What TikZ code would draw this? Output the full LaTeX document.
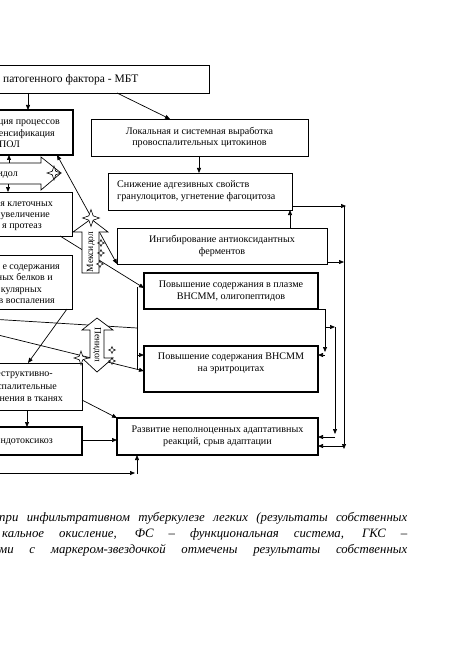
\documentclass[tikz,border=0pt]{standalone}
\usepackage{fontspec}
\setmainfont{Liberation Serif}
\usetikzlibrary{arrows.meta,shapes.geometric}
\begin{document}
\begin{tikzpicture}[x=1pt,y=-1pt,
  box/.style={draw, line width=0.8pt, inner sep=0pt, outer sep=0pt},
  tbox/.style={draw, line width=2.2pt, inner sep=0pt, outer sep=0pt},
  arr/.style={-{Triangle[length=5pt,width=4pt]}, line width=0.7pt},
  darr/.style={{Triangle[length=5pt,width=4pt]}-{Triangle[length=5pt,width=4pt]}, line width=0.7pt},
  ln/.style={line width=0.7pt},
  txt/.style={inner sep=0pt, align=center, font=\fontsize{10.1}{11.8}\selectfont},
  ltxt/.style={inner sep=0pt, anchor=base east, font=\fontsize{10}{12}\selectfont},
  blk/.style={draw, fill=white, line width=0.7pt},
  bigstar/.style={star, star points=4, star point ratio=2.8, draw, fill=white, inner sep=0pt, minimum size=14pt, line width=0.6pt},
  smallstar/.style={star, star points=4, star point ratio=2.4, draw, fill=white, inner sep=0pt, minimum size=7pt, line width=0.5pt},
  captxt/.style={inner sep=0pt, anchor=base west, font=\fontsize{12.8}{15}\selectfont\itshape}
]
\useasboundingbox (0,0) rectangle (475,671);

% ---------- boxes ----------
\node[box, minimum width=309pt, minimum height=28pt] (b1) at (54.5,79) {};
\node[tbox, minimum width=173pt, minimum height=45pt] (b2) at (-13.5,132.5) {};
\node[box, minimum width=217pt, minimum height=37pt] (lok) at (199.5,137.5) {};
\node[box, minimum width=184pt, minimum height=37pt] (sni) at (200,191.5) {};
\node[box, minimum width=210pt, minimum height=36pt] (ing) at (222,246) {};
\node[box, minimum width=172pt, minimum height=44pt] (b3) at (-14,214) {};
\node[box, minimum width=172pt, minimum height=54pt] (b4) at (-14,282) {};
\node[tbox, minimum width=174pt, minimum height=36pt] (pla) at (231,291) {};
\node[tbox, minimum width=174pt, minimum height=46pt] (ery) at (231,369) {};
\node[box, minimum width=182pt, minimum height=47pt] (des) at (-9,386.5) {};
\node[tbox, minimum width=182pt, minimum height=28pt] (endo) at (-9,441) {};
\node[tbox, minimum width=201pt, minimum height=37pt] (raz) at (217.5,436.5) {};

% ---------- texts ----------
\node[inner sep=0pt, anchor=base west, font=\fontsize{11.5}{13}\selectfont] (t1) at (3,83) {патогенного фактора - МБТ};
\node[ltxt] (t2a) at (60,125) {ция процессов};
\node[ltxt] (t2b) at (55,136.5) {тенсификация};
\node[ltxt] (t2c) at (20,148) {ПОЛ};
\node[txt] (tlok) at (199.5,137.5) {Локальная и системная выработка\\провоспалительных цитокинов};
\node[txt, align=left, anchor=west] (tsni) at (117,191) {Снижение адгезивных свойств\\гранулоцитов, угнетение фагоцитоза};
\node[txt] (ting) at (222,246) {Ингибирование антиоксидантных\\ферментов};
\node[ltxt] (t3a) at (53,206) {ия клеточных};
\node[ltxt] (t3b) at (50,217) {увеличение};
\node[ltxt] (t3c) at (42,228) {я протеаз};
\node[ltxt] (t4a) at (60,269.5) {е содержания};
\node[ltxt] (t4b) at (53,280.5) {ных белков и};
\node[ltxt] (t4c) at (42,292) {кулярных};
\node[ltxt] (t4d) at (55,303.5) {в воспаления};
\node[txt] (tpla) at (231,291) {Повышение содержания в плазме\\ВНСММ, олигопептидов};
\node[txt] (tery) at (231,363) {Повышение содержания ВНСММ\\на эритроцитах};
\node[ltxt] (tda) at (53,376) {еструктивно-};
\node[ltxt] (tdb) at (57,389) {спалительные};
\node[ltxt] (tdc) at (63,401) {нения в тканях};
\node[ltxt] (tend) at (53,443) {ндотоксикоз};
\node[txt] (traz) at (217.5,436) {Развитие неполноценных адаптативных\\реакций, срыв адаптации};

% ---------- connectors (behind block arrows) ----------
\draw[arr] (b1.south -| 28,0) -- (b2.north -| 28,0);
\draw[arr] (b1.south -| 117,0) -- (lok.north -| 170,0);
\draw[arr] (lok.south -| 199,0) -- (sni.north -| 199,0);
\draw[arr] (ing.north -| 290,0) -- (sni.south -| 290,0);

\coordinate (rtop) at (344,206);
\coordinate (rbot) at (344,449);
\coordinate (rmid) at (344,262);
\draw[arr] (sni.east |- rtop) -- ([xshift=2pt]rtop);
\draw[arr] (ing.east |- rmid) -- (rmid);
\draw[arr] (rtop) -- (rbot);
\draw[arr] (344,446) -- (raz.east |- 0,446);

\coordinate (qa) at (325,309);
\coordinate (qb) at (325,352);
\draw[arr] (pla.south east) -- (qa) -- (qb);
\draw[arr] (325,355) -- (ery.east |- 0,355);
\coordinate (sa) at (335,327);
\coordinate (sb) at (335,434);
\draw[arr] (qa |- sa) -- (sa);
\draw[arr] (sa) -- (sb);
\draw[arr] (sb |- 0,437) -- (raz.east |- 0,437);

\draw[darr] (b2.south -| 57,0) -- (ing.south west);
\draw[arr] (b3.south -| 60,0) -- (pla.west |- 0,288);
\coordinate (la) at (-10,319);
\coordinate (lb) at (137,328);
\draw[ln] (la) -- (lb);
\draw[ln] (137,287) -- (137,370);
\draw[arr] (137,355) -- (ery.west |- 0,355);
\coordinate (lc) at (-10,333);
\draw[arr] (lc) -- (ery.west |- 0,371);
\draw[arr] (b4.south -| 67,0) -- (des.north -| 28,0);
\draw[arr] (des.south -| 27,0) -- (endo.north -| 27,0);
\draw[arr] (des.east |- 0,400) -- (raz.north west);
\draw[arr] (endo.east |- 0,440) -- (raz.west |- 0,440);
\coordinate (ba) at (-10,473);
\coordinate (bb) at (135,473);
\draw[arr] (ba) -- (bb);
\draw[arr] (137,474) -- (raz.south -| 137,0);

% ---------- block arrows (drugs) ----------
\draw[blk] (-100,163) -- (41,163) -- (41,157) -- (61,173) -- (41,190) -- (41,184) -- (-100,184) -- cycle;
\node[ltxt] (tm1) at (18,176) {сидол};
\draw[arr] (9,163) -- (b2.south -| 9,0);
\draw[arr] (8,184) -- (b3.north -| 8,0);

\draw[blk] (82,273) -- (82,232) -- (73,232) -- (91,219) -- (108,232) -- (99,232) -- (99,273) -- cycle;
\node[inner sep=0pt, rotate=90, font=\fontsize{9.5}{11}\selectfont] (tm2) at (91,252) {Мексидол};

\draw[blk] (97,318) -- (113,330) -- (104,330) -- (104,358) -- (113,358) -- (97,372) -- (82,358) -- (90,358) -- (90,330) -- (82,330) -- cycle;
\node[inner sep=0pt, rotate=-90, font=\fontsize{9.5}{11}\selectfont] (tp) at (97,345) {Пенидол};

% ---------- stars ----------
\node[bigstar] (s1) at (54,173) {};
\node[bigstar, minimum size=17pt] (s2) at (91,218) {};
\node[smallstar] (s3) at (101,243) {};
\node[smallstar] (s4) at (101,253) {};
\node[smallstar] (s5) at (100,264) {};
\node[bigstar] (s6) at (81,358) {};
\node[smallstar] (s7) at (112,350) {};
\node[smallstar] (s8) at (112,361) {};

% ---------- caption ----------
\node[captxt] (c1) at (-1,521) {\makebox[408pt][s]{при инфильтративном туберкулезе легких (результаты собственных}};
\node[captxt] (c2) at (2,537) {\makebox[405pt][s]{кальное окисление, ФС – функциональная система, ГКС –}};
\node[captxt] (c3) at (-1,553) {\makebox[408pt][s]{ми с маркером-звездочкой отмечены результаты собственных}};
\end{tikzpicture}
\end{document}
